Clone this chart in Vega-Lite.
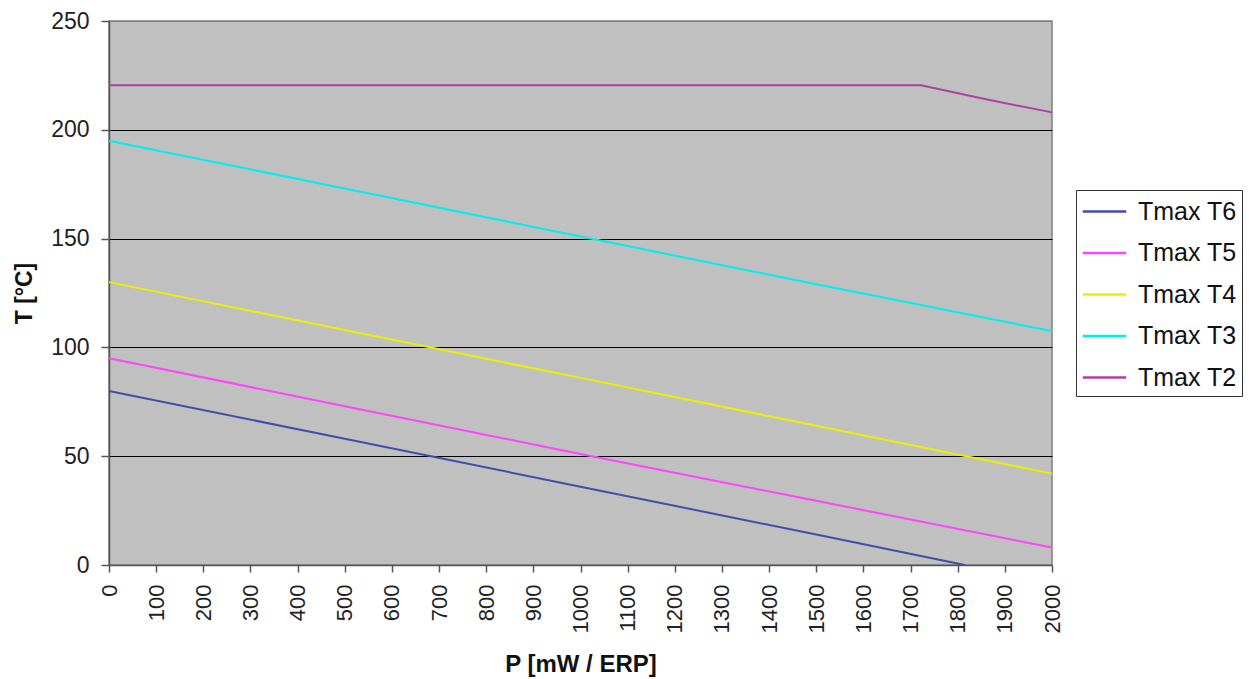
{
  "$schema": "https://vega.github.io/schema/vega-lite/v6.json",
  "width": 943,
  "height": 544,
  "autosize": {"type": "none"},
  "padding": {"left": 109, "top": 21, "right": 197, "bottom": 114},
  "background": "white",
  "config": {
    "font": "Liberation Sans",
    "view": {"fill": "#C0C0C0", "stroke": "#808080", "strokeWidth": 1.5}
  },
  "data": {
    "values": [
      {"P": 0, "T": 80, "s": "Tmax T6"},
      {"P": 500, "T": 58, "s": "Tmax T6"},
      {"P": 1000, "T": 36, "s": "Tmax T6"},
      {"P": 1500, "T": 14, "s": "Tmax T6"},
      {"P": 1815, "T": 0, "s": "Tmax T6"},
      {"P": 0, "T": 95, "s": "Tmax T5"},
      {"P": 500, "T": 73, "s": "Tmax T5"},
      {"P": 1000, "T": 51, "s": "Tmax T5"},
      {"P": 1500, "T": 29.5, "s": "Tmax T5"},
      {"P": 2000, "T": 8, "s": "Tmax T5"},
      {"P": 0, "T": 130, "s": "Tmax T4"},
      {"P": 500, "T": 108, "s": "Tmax T4"},
      {"P": 1000, "T": 86, "s": "Tmax T4"},
      {"P": 1500, "T": 64, "s": "Tmax T4"},
      {"P": 2000, "T": 42, "s": "Tmax T4"},
      {"P": 0, "T": 195, "s": "Tmax T3"},
      {"P": 500, "T": 173, "s": "Tmax T3"},
      {"P": 1000, "T": 151, "s": "Tmax T3"},
      {"P": 1500, "T": 129, "s": "Tmax T3"},
      {"P": 2000, "T": 107.5, "s": "Tmax T3"},
      {"P": 0, "T": 220.5, "s": "Tmax T2"},
      {"P": 1000, "T": 220.5, "s": "Tmax T2"},
      {"P": 1722, "T": 220.5, "s": "Tmax T2"},
      {"P": 1860, "T": 214, "s": "Tmax T2"},
      {"P": 2000, "T": 208, "s": "Tmax T2"}
    ]
  },
  "mark": {"type": "line", "strokeWidth": 2},
  "encoding": {
    "x": {
      "field": "P",
      "type": "quantitative",
      "scale": {"domain": [0, 2000], "nice": false},
      "axis": {
        "title": "P [mW / ERP]",
        "values": [0, 100, 200, 300, 400, 500, 600, 700, 800, 900, 1000, 1100, 1200, 1300, 1400, 1500, 1600, 1700, 1800, 1900, 2000],
        "format": "d",
        "labelAngle": -90,
        "labelAlign": "right",
        "labelBaseline": "middle",
        "labelFontSize": 22,
        "labelColor": "#222",
        "labelPadding": 12,
        "labelOverlap": false,
        "labelFlush": false,
        "grid": false,
        "domainColor": "#555",
        "domainWidth": 1.5,
        "tickColor": "#555",
        "tickSize": 7,
        "tickWidth": 1.5,
        "titleFontSize": 24,
        "titleFontWeight": "bold",
        "titleColor": "#111",
        "titlePadding": 20
      }
    },
    "y": {
      "field": "T",
      "type": "quantitative",
      "scale": {"domain": [0, 250], "nice": false},
      "axis": {
        "title": "T [°C]",
        "values": [0, 50, 100, 150, 200, 250],
        "labelFontSize": 23,
        "labelColor": "#222",
        "labelPadding": 12,
        "grid": true,
        "gridColor": {"condition": {"test": "datum.value == 250 || datum.value == 0", "value": "#808080"}, "value": "#000000"},
        "gridWidth": 1,
        "gridOpacity": 1,
        "domainColor": "#555",
        "domainWidth": 1.5,
        "tickColor": "#555",
        "tickSize": 8,
        "tickWidth": 1.5,
        "titleFontSize": 23,
        "titleFontWeight": "bold",
        "titleColor": "#111",
        "titlePadding": 14
      }
    },
    "color": {
      "field": "s",
      "type": "nominal",
      "scale": {
        "domain": ["Tmax T6", "Tmax T5", "Tmax T4", "Tmax T3", "Tmax T2"],
        "range": ["#3F4FA8", "#FF44FF", "#EEEE00", "#00EEEE", "#B040A0"]
      },
      "legend": {
        "title": null,
        "orient": "none",
        "legendX": 967,
        "legendY": 169,
        "symbolType": "M-1.45,0H1.45",
        "symbolStrokeWidth": 2.5,
        "symbolSize": 900,
        "symbolOffset": 7,
        "labelFontSize": 25,
        "labelColor": "#111",
        "labelOffset": 17,
        "rowPadding": 11.5,
        "padding": 5,
        "strokeColor": "#333",
        "fillColor": "white",
        "cornerRadius": 0
      }
    }
  }
}
